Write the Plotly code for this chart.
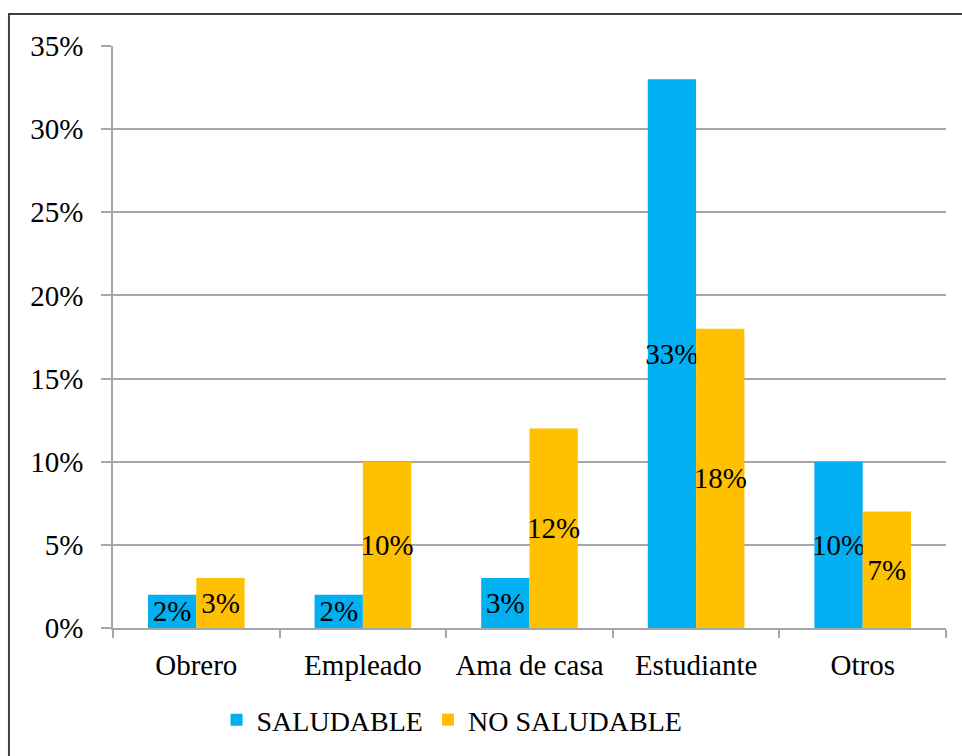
import plotly.graph_objects as go

# Occupation categories and share of respondents per nutrition group
categorias = ["Obrero", "Empleado", "Ama de casa", "Estudiante", "Otros"]
saludable = [0.02, 0.02, 0.03, 0.33, 0.10]
no_saludable = [0.03, 0.10, 0.12, 0.18, 0.07]
y_ticks = [0, 0.05, 0.10, 0.15, 0.20, 0.25, 0.30, 0.35]
y_tick_labels = ["0%", "5%", "10%", "15%", "20%", "25%", "30%", "35%"]

FONT = "Liberation Serif"
GRID = "#A6A6A6"


def pct(vals):
    return [f"{round(v * 100)}%" for v in vals]


def label_font(size, family=FONT):
    return dict(family=family, size=size, color="black")


fig = go.Figure()
for name, vals, color in [("SALUDABLE", saludable, "#00B0F0"),
                          ("NO SALUDABLE", no_saludable, "#FFC000")]:
    fig.add_trace(go.Bar(
        name=name, x=categorias, y=vals,
        marker=dict(color=color, line=dict(width=0)),
        text=pct(vals), textposition="inside", insidetextanchor="middle",
        textangle=0, constraintext="none",
        textfont=label_font(29), insidetextfont=label_font(29),
    ))

fig.update_layout(
    template="none",
    width=962, height=756,
    margin=dict(l=113, r=16, t=46, b=127),
    paper_bgcolor="white", plot_bgcolor="white",
    barmode="group", bargap=0.42, bargroupgap=0,
    font=label_font(29),
    showlegend=True,
    legend=dict(
        orientation="h", x=0.407, xanchor="center", y=-0.156, yanchor="middle",
        font=label_font(28), bgcolor="rgba(0,0,0,0)",
        itemwidth=30, traceorder="normal",
    ),
    shapes=[dict(
        type="rect", xref="paper", yref="paper",
        x0=-0.1249, x1=1.05, y0=-0.3, y1=1.0549,
        line=dict(color="#404040", width=2), fillcolor="rgba(0,0,0,0)",
        layer="below",
    )],
)

fig.update_yaxes(
    range=[0, 0.35], tickvals=y_ticks, ticktext=y_tick_labels,
    showgrid=True, gridcolor=GRID, gridwidth=1.5,
    showline=True, linecolor=GRID, linewidth=1.5,
    ticks="outside", ticklen=10, tickcolor=GRID, tickwidth=1.5,
    ticklabelstandoff=12, zeroline=False,
    tickfont=label_font(29),
)
fig.update_xaxes(
    showline=True, linecolor=GRID, linewidth=1.5, showgrid=False,
    ticks="outside", tickson="boundaries", ticklen=8, tickcolor=GRID, tickwidth=1.5,
    ticklabelstandoff=10,
    tickfont=label_font(29),
)

fig.write_html("out.html")
